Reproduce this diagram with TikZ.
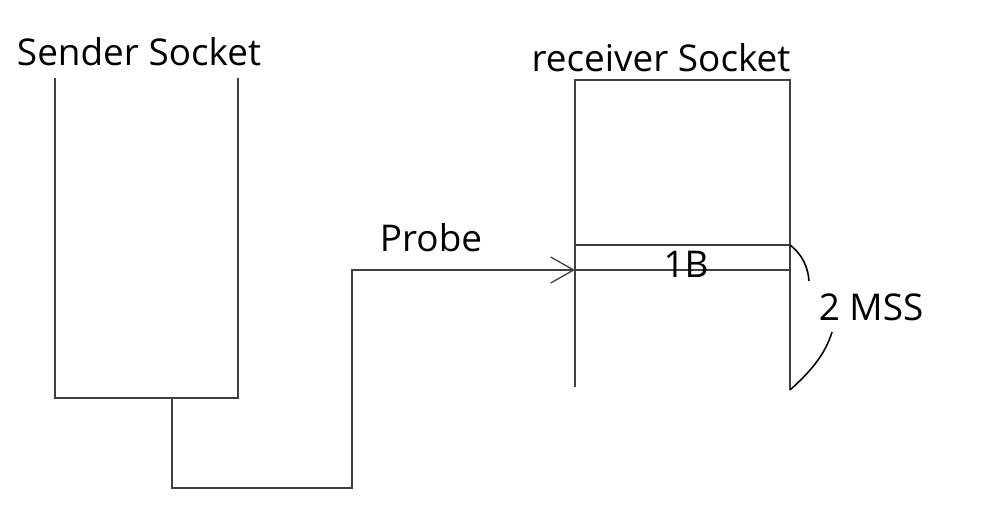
\documentclass[tikz,border=0pt]{standalone}
\usepackage{fontspec}
\setmainfont{Open Sans}
\usetikzlibrary{arrows.meta,positioning}
\colorlet{penColor}{black!75}

\begin{document}
\begin{tikzpicture}[x=0.02cm,y=-0.02cm,
	wall/.style={penColor,line width=0.75pt},
	lbl/.style={inner sep=0pt,font=\fontsize{21}{25}\selectfont},
	brace/.style={black,line width=0.9pt}]
				\useasboundingbox (0,0) rectangle (982,513);
				\node[lbl] (sendertitle) at (139,52) {Sender Socket};
				\node[lbl] (receivertitle) at (661,58) {receiver Socket};
				\coordinate (sb) at (172,398);
				\coordinate (rin) at (575,270);
				\draw[wall] (55,78) -- (55,398) -- (238,398) -- (238,78);% sender box
				\draw[wall] (575,387) -- (575,80) -- (790,80) -- (790,390);% receiver box
				\draw[wall] (575,245) -- (790,245);
				\draw[wall] (575,270) -- (790,270);
				\node[lbl] (onebyte) at (686,264) {1B};
				\draw[wall,-{Straight Barb[length=4.6mm,width=5.2mm]}] (sb) -- (172,488) -- (352,488) -- (352,270) -- (rin);
				\node[lbl] (probe) at (431,238) {Probe};
				\node[lbl] (mss) at (871,307) {2 MSS};
				\draw[brace] (790,245) .. controls (803,255) and (808,268) .. (809,281);% upper half of brace
				\draw[brace] (832,332) .. controls (825,355) and (810,372) .. (790,390);% lower half of brace
				\end{tikzpicture}
\end{document}
